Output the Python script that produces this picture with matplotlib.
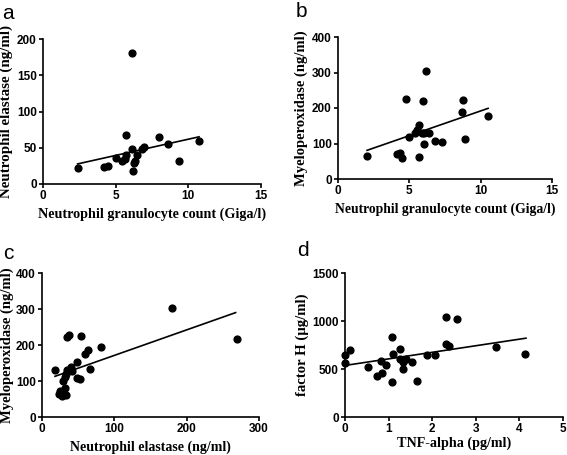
import numpy as np
import matplotlib.pyplot as plt

# panel a: granulocytes vs elastase
a_x = [2.38, 4.19, 4.49, 4.99, 5.45, 5.66, 5.72, 5.68, 6.09, 6.11, 6.16, 6.23, 6.34, 6.46, 6.82, 6.96, 7.97, 8.61, 9.37, 10.74]
a_y = [22.6, 24, 25.4, 36, 32.3, 35, 39.7, 67, 181, 48.5, 18, 29, 32.3, 40.6, 48, 51.7, 64.2, 54.5, 32.3, 59]
a_fit_x = [2.38, 10.74]
a_fit_y = [27.7, 65.1]

# panel b: granulocytes vs MPO
b_x = [2.04, 4.17, 4.34, 4.48, 4.78, 4.97, 5.39, 5.53, 5.67, 5.86, 6.05, 5.67, 5.95, 6.0, 6.16, 6.35, 6.8, 7.31, 8.72, 8.79, 8.93, 10.52]
b_y = [64.8, 70, 72, 59, 226, 119, 129, 138, 151, 130, 130, 63, 220, 100, 303, 129, 108, 105, 189, 223, 112, 177]
b_fit_x = [2.04, 10.52]
b_fit_y = [80.8, 199]

# panel c: elastase vs MPO
c_x = [18, 23, 25, 27, 32, 33, 29, 32, 34, 33, 35, 37, 40, 41, 49, 49, 53, 54, 59, 64, 67, 81, 180, 269]
c_y = [131, 65, 72, 59, 80, 61, 100, 112, 130, 120, 222, 227, 138, 129, 152, 109, 106, 224, 176, 187, 132, 194, 304, 217]
c_fit_x = [18, 267.7]
c_fit_y = [113, 290]

# panel d: TNF-alpha vs factor H
d_x = [0.01, 0.01, 0.11, 0.53, 0.74, 0.82, 0.86, 0.94, 1.07, 1.07, 1.11, 1.27, 1.27, 1.32, 1.32, 1.4, 1.53, 1.64, 1.89, 2.06, 2.31, 2.31, 2.39, 2.56, 3.47, 4.13]
d_y = [648, 558, 696, 520, 426, 585, 457, 544, 838, 367, 655, 710, 603, 578, 495, 606, 578, 370, 648, 648, 1043, 765, 738, 1018, 727, 655]
d_fit_x = [0.0, 4.15]
d_fit_y = [537, 821]

W, H = 567, 455
fig = plt.figure(figsize=(W / 100, H / 100), dpi=100)

serif = 'Liberation Serif'
sans = 'Liberation Sans'

panels = [
    # x, y, fit x, fit y, rect(px: left, right, bottom, top), limits, ticks, labels, letter, letter pos, label sizes, pads
    (a_x, a_y, a_fit_x, a_fit_y, (43, 261, 184, 39), (0, 15), (0, 200), [0, 5, 10, 15], [0, 50, 100, 150, 200],
     'Neutrophil granulocyte count (Giga/l)', 'Neutrophil elastase (ng/ml)', 'a', (2, 4), 10.2, 10.8, 4, 2.5),
    (b_x, b_y, b_fit_x, b_fit_y, (338, 552, 179, 37), (0, 15), (0, 400), [0, 5, 10, 15], [0, 100, 200, 300, 400],
     'Neutrophil granulocyte count (Giga/l)', 'Myeloperoxidase (ng/ml)', 'b', (296, 2), 9.8, 10.5, 4, 3),
    (c_x, c_y, c_fit_x, c_fit_y, (42, 259, 417, 273), (0, 300), (0, 400), [0, 100, 200, 300], [0, 100, 200, 300, 400],
     'Neutrophil elastase (ng/ml)', 'Myeloperoxidase (ng/ml)', 'c', (3, 244), 10, 10.5, 4, 1.5),
    (d_x, d_y, d_fit_x, d_fit_y, (345, 563, 417, 273), (0, 5), (0, 1500), [0, 1, 2, 3, 4, 5], [0, 500, 1000, 1500],
     'TNF-alpha (pg/ml)', 'factor H (µg/ml)', 'd', (297, 241), 10.2, 10.6, 1, 2),
]

for (x, y, fx, fy, rect, xlim, ylim, xt, yt, xl, yl, letter, lpos, xls, yls, xpad, ypad) in panels:
    l, r, b, t = rect
    ax = fig.add_axes([l / W, (H - b) / H, (r - l) / W, (b - t) / H])
    ax.scatter(x, y, s=24, color='black', zorder=3, clip_on=False)
    ax.plot(fx, fy, color='black', lw=1.2)
    ax.set_xlim(*xlim)
    ax.set_ylim(*ylim)
    ax.set_xticks(xt)
    ax.set_yticks(yt)
    ax.spines['top'].set_visible(False)
    ax.spines['right'].set_visible(False)
    for s in ['left', 'bottom']:
        ax.spines[s].set_linewidth(1.2)
    ax.tick_params(direction='out', length=3, width=1.2, pad=1.5)
    for lab in ax.get_xticklabels() + ax.get_yticklabels():
        lab.set_fontfamily(sans)
        lab.set_fontweight('bold')
        lab.set_fontsize(8.5)
    ax.set_xlabel(xl, fontfamily=serif, fontweight='bold', fontsize=xls, labelpad=xpad)
    ax.set_ylabel(yl, fontfamily=serif, fontweight='bold', fontsize=yls, labelpad=ypad)
    fig.text(lpos[0] / W, 1 - lpos[1] / H, letter, fontfamily=sans, fontsize=15, ha='left', va='top')

fig.savefig('out.png', dpi=100)
